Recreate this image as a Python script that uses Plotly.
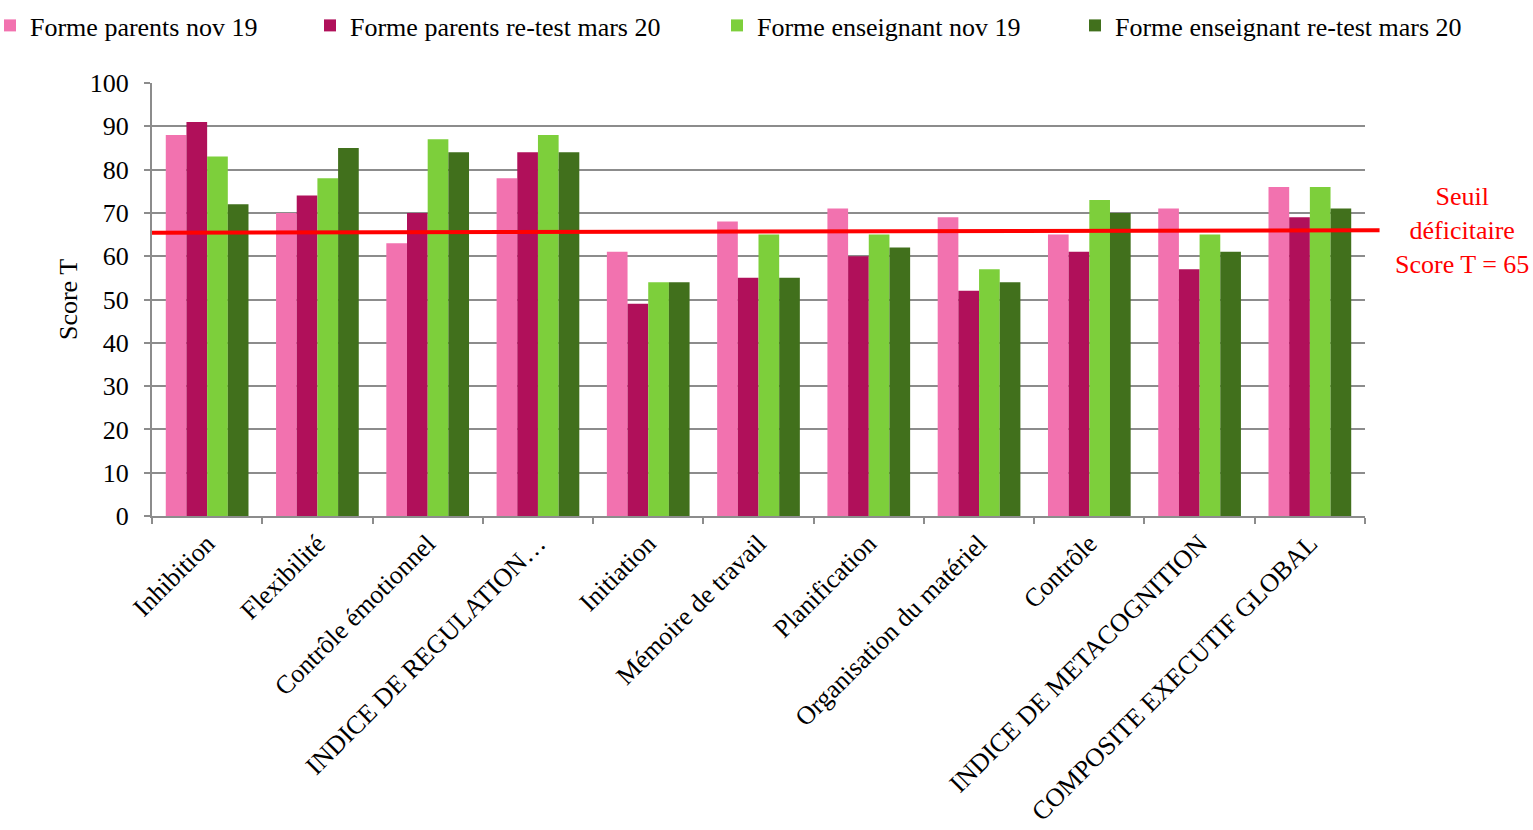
import plotly.graph_objects as go

categories = ["Inhibition", "Flexibilité", "Contrôle émotionnel", "INDICE DE REGULATION…",
              "Initiation", "Mémoire de travail", "Planification", "Organisation du matériel",
              "Contrôle", "INDICE DE METACOGNITION", "COMPOSITE EXECUTIF GLOBAL"]
series_names = ["Forme parents nov 19", "Forme parents re-test mars 20",
                "Forme enseignant nov 19", "Forme enseignant re-test mars 20"]
parents_nov19 = [88, 70, 63, 78, 61, 68, 71, 69, 65, 71, 76]
parents_mars20 = [91, 74, 70, 84, 49, 55, 60, 52, 61, 57, 69]
enseignant_nov19 = [83, 78, 87, 88, 54, 65, 65, 57, 73, 65, 76]
enseignant_mars20 = [72, 85, 84, 84, 54, 55, 62, 54, 70, 61, 71]
threshold = 65
y_ticks = [0, 10, 20, 30, 40, 50, 60, 70, 80, 90, 100]

colors = ["#F272AF", "#B0105A", "#7DCF3B", "#41701C"]
font_family = "Liberation Serif"
FS = 26

PLOT_L, PLOT_R, PLOT_T, PLOT_B = 152, 1365, 83, 516
PW = PLOT_R - PLOT_L
PH = PLOT_B - PLOT_T

legend_ids = ["legend", "legend2", "legend3", "legend4"]
legend_px = [-10, 310, 717, 1075]

fig = go.Figure()
for name, vals, col, lid in zip(series_names,
                                [parents_nov19, parents_mars20, enseignant_nov19, enseignant_mars20],
                                colors, legend_ids):
    fig.add_trace(go.Bar(x=categories, y=vals, name=name, marker_color=col,
                         marker_line_width=0, legend=lid))

fig.add_shape(type="line", xref="paper", yref="y", x0=0, x1=1.012,
              y0=threshold + 0.4, y1=threshold + 1.0,
              line=dict(color="#FF0000", width=4), layer="above")

fig.add_annotation(xref="paper", yref="y", x=(1462 - PLOT_L) / PW, y=threshold + 1.0,
                   text="Seuil<br>déficitaire<br>Score T = 65", showarrow=False,
                   font=dict(family=font_family, size=FS, color="#FF0000"),
                   xanchor="center", yanchor="middle", align="center")

legend_y = 1 + (PLOT_T - 2) / PH
legends = {}
for lid, px in zip(legend_ids, legend_px):
    legends[lid] = dict(orientation="h", x=(px - PLOT_L) / PW, y=legend_y,
                        xanchor="left", yanchor="top", bgcolor="rgba(0,0,0,0)",
                        font=dict(family=font_family, size=FS, color="black"), itemwidth=30)

fig.update_layout(
    width=1533, height=830,
    margin=dict(l=PLOT_L, r=1533 - PLOT_R, t=PLOT_T, b=830 - PLOT_B, autoexpand=False),
    paper_bgcolor="white", plot_bgcolor="white",
    barmode="group", bargap=0.25, bargroupgap=0,
    font=dict(family=font_family, size=FS, color="black"),
    showlegend=True,
    **legends,
)
fig.update_xaxes(showline=True, linecolor="#8C8C8C", linewidth=2,
                 ticks="outside", tickson="boundaries", ticklen=6, tickcolor="#8C8C8C",
                 tickwidth=2, tickangle=-45, tickfont=dict(family=font_family, size=FS),
                 showgrid=False)
fig.update_yaxes(range=[0, 100], tickvals=y_ticks, showline=True, linecolor="#8C8C8C",
                 linewidth=2, ticks="outside", ticklen=6, tickcolor="#8C8C8C", tickwidth=2,
                 showgrid=True, gridcolor="#8C8C8C", gridwidth=2,
                 tickfont=dict(family=font_family, size=FS), ticklabelstandoff=10,
                 title=dict(text="Score T", font=dict(family=font_family, size=FS), standoff=5),
                 zeroline=False)

fig.write_html("out.html")
